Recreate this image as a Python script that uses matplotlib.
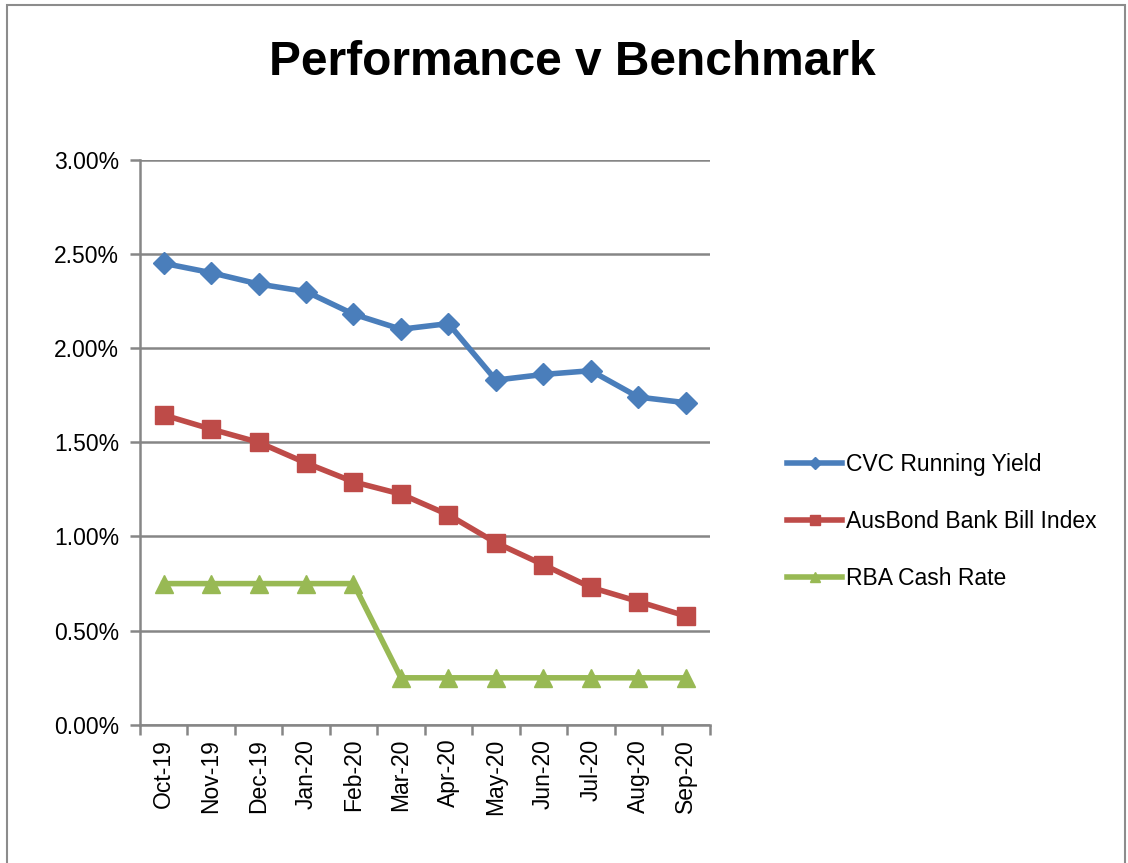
import matplotlib
matplotlib.use('Agg')
import matplotlib.pyplot as plt
from matplotlib.patches import Rectangle
from matplotlib.ticker import FuncFormatter

months = ['Oct-19', 'Nov-19', 'Dec-19', 'Jan-20', 'Feb-20', 'Mar-20',
          'Apr-20', 'May-20', 'Jun-20', 'Jul-20', 'Aug-20', 'Sep-20']
cvc_yield = [2.45, 2.40, 2.34, 2.30, 2.18, 2.10, 2.13, 1.83, 1.86, 1.88, 1.74, 1.71]
ausbond = [1.645, 1.57, 1.50, 1.39, 1.29, 1.225, 1.115, 0.967, 0.85, 0.73, 0.655, 0.578]
rba_cash = [0.75, 0.75, 0.75, 0.75, 0.75, 0.25, 0.25, 0.25, 0.25, 0.25, 0.25, 0.25]

plt.rcParams['font.family'] = ['Liberation Sans', 'DejaVu Sans']

fig = plt.figure(figsize=(11.28, 8.63), dpi=100)
ax = fig.add_axes([0.124, 0.160, 0.505, 0.655])

# Outer chart frame
fig.patches.append(Rectangle((0.006, -0.01), 0.991, 1.004, transform=fig.transFigure,
                             fill=False, edgecolor='#8c8c8c', linewidth=1.5))

x = list(range(len(months)))
ax.plot(x, cvc_yield, color='#4A7EBB', lw=4, marker='D', ms=11, label='CVC Running Yield')
ax.plot(x, ausbond, color='#BE4B48', lw=4, marker='s', ms=13, label='AusBond Bank Bill Index')
ax.plot(x, rba_cash, color='#98B954', lw=4, marker='^', ms=13, label='RBA Cash Rate')

ax.set_xlim(-0.5, len(months) - 0.5)
ax.set_ylim(0, 3.0)
ax.set_yticks([0, 0.5, 1.0, 1.5, 2.0, 2.5, 3.0])
ax.yaxis.set_major_formatter(FuncFormatter(lambda v, p: f'{v:.2f}%'))
ax.grid(axis='y', color='#868686', lw=1.8)
ax.set_axisbelow(True)

ax.set_xticks(x)
ax.set_xticklabels(months, rotation=90)
ax.set_xticks([i - 0.5 for i in range(len(months) + 1)], minor=True)
ax.tick_params(axis='x', which='major', length=0, pad=10, labelsize=16.5)
ax.tick_params(axis='x', which='minor', length=7, width=1.8, color='#868686')
ax.tick_params(axis='y', length=7, width=1.8, color='#868686', pad=8, labelsize=16.5)

for s in ['top', 'right']:
    ax.spines[s].set_visible(False)
for s in ['left', 'bottom']:
    ax.spines[s].set_color('#868686')
    ax.spines[s].set_linewidth(1.8)

fig.text(0.507, 0.928, 'Performance v Benchmark', ha='center', va='center',
         fontsize=34.5, fontweight='bold')

leg = ax.legend(loc='center left', bbox_to_anchor=(1.10, 0.36), frameon=False,
                fontsize=16.5, handlelength=2.4, handletextpad=0.15, labelspacing=1.5,
                markerscale=0.6)

fig.savefig('out.png', dpi=100)
